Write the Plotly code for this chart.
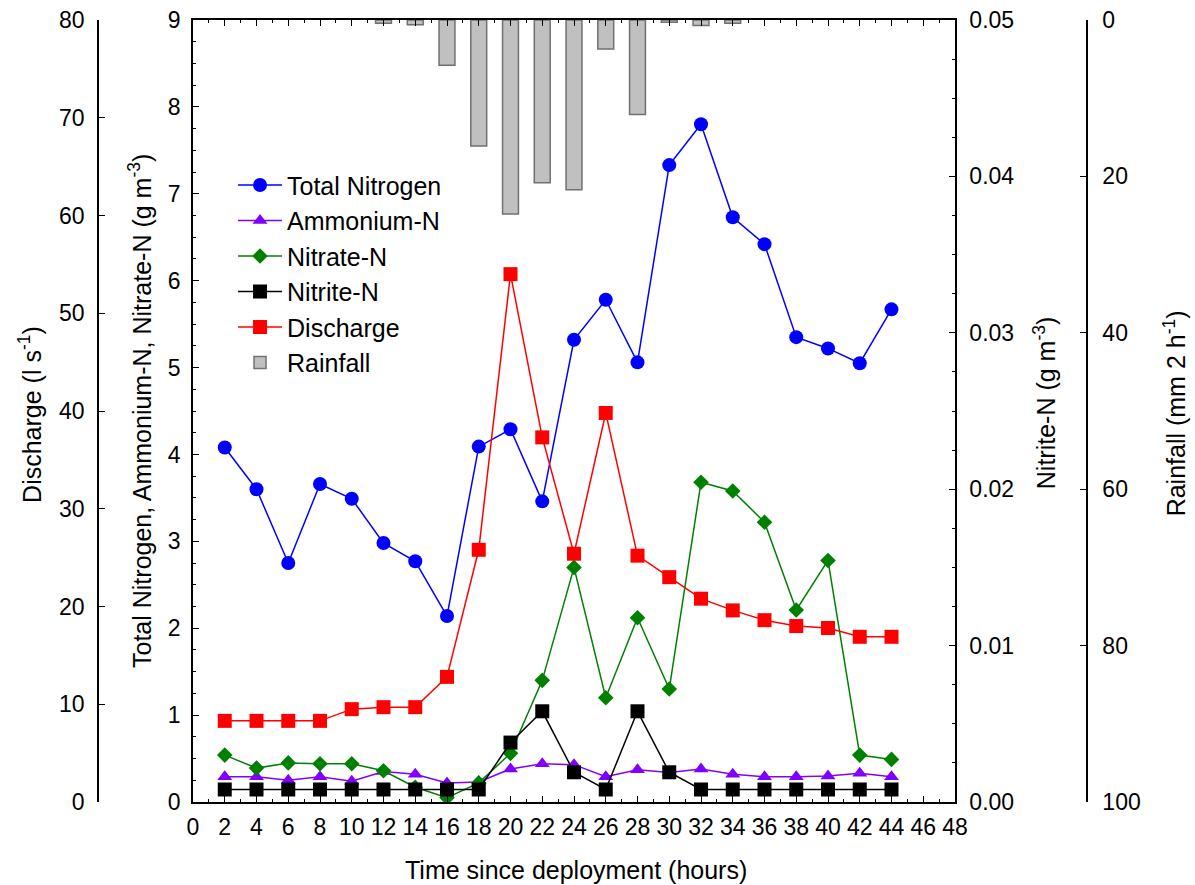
import plotly.graph_objects as go

# sampling times (hours since deployment)
hours = [2, 4, 6, 8, 10, 12, 14, 16, 18, 20, 22, 24, 26, 28, 30, 32, 34, 36, 38, 40, 42, 44]

total_nitrogen = [4.08, 3.60, 2.75, 3.66, 3.49, 2.98, 2.77, 2.14, 4.09, 4.29, 3.46,
                  5.32, 5.78, 5.06, 7.33, 7.80, 6.73, 6.42, 5.35, 5.22, 5.05, 5.67]
ammonium = [0.29, 0.29, 0.25, 0.29, 0.24, 0.35, 0.32, 0.22, 0.23, 0.38, 0.44,
            0.43, 0.29, 0.37, 0.34, 0.38, 0.32, 0.29, 0.29, 0.30, 0.33, 0.29]
nitrate = [0.54, 0.39, 0.45, 0.44, 0.44, 0.36, 0.17, 0.05, 0.22, 0.56, 1.40,
           2.70, 1.20, 2.12, 1.30, 3.68, 3.58, 3.22, 2.21, 2.78, 0.54, 0.49]
nitrite = [0.0008, 0.0008, 0.0008, 0.0008, 0.0008, 0.0008, 0.0008, 0.0008, 0.0008, 0.0038, 0.0058,
           0.0019, 0.0008, 0.0058, 0.0019, 0.0008, 0.0008, 0.0008, 0.0008, 0.0008, 0.0008, 0.0008]
discharge = [8.3, 8.3, 8.3, 8.3, 9.5, 9.7, 9.7, 12.8, 25.8, 54.0, 37.3,
             25.4, 39.8, 25.2, 23.0, 20.8, 19.6, 18.6, 18.0, 17.8, 16.9, 16.9]

rain_hours = [12, 14, 16, 18, 20, 22, 24, 26, 28, 30, 32, 34]
rainfall = [0.4, 0.6, 5.8, 16.1, 24.8, 20.8, 21.7, 3.7, 12.1, 0.3, 0.7, 0.4]

FONT = "Liberation Sans, Arial, sans-serif"
W, H = 1195, 885

fig = go.Figure()

def line(name, y, color, symbol, size, axis, rank):
    fig.add_trace(go.Scatter(
        x=hours, y=y, name=name, yaxis=axis, mode="lines+markers",
        line=dict(color=color, width=1.5),
        marker=dict(symbol=symbol, size=size, color=color),
        legendrank=rank,
    ))

line("Total Nitrogen", total_nitrogen, "#0000FF", "circle", 14, "y", 1)
line("Ammonium-N", ammonium, "#8000FF", "triangle-up", 13, "y", 2)
line("Nitrate-N", nitrate, "#008000", "diamond", 12, "y", 3)
line("Discharge", discharge, "#FF0000", "square", 14, "y2", 5)
line("Nitrite-N", nitrite, "#000000", "square", 14, "y3", 4)

fig.add_trace(go.Bar(
    x=rain_hours, y=rainfall, name="Rainfall", yaxis="y4", width=1.0,
    marker=dict(color="#C0C0C0", line=dict(color="#707070", width=1.5)),
    legendrank=6,
))

axis_common = dict(showline=True, linecolor="black", linewidth=1.5, showgrid=False,
                   zeroline=False, ticks="inside", tickcolor="black", ticklen=6,
                   automargin=False,
                   tickfont=dict(size=23, color="black", family=FONT))

x0, x1 = 193 / W, 955 / W

fig.update_layout(
    width=W, height=H,
    margin=dict(l=0, r=0, t=20, b=83),
    plot_bgcolor="white", paper_bgcolor="white",
    font=dict(family=FONT, size=23, color="black"),
    barmode="overlay",
    xaxis=dict(domain=[x0, x1], range=[0, 48], tickmode="linear", tick0=0, dtick=2,
               mirror="ticks", ticklabelstandoff=4,
               minor=dict(dtick=1, ticklen=3, ticks="inside", tickcolor="black"),
               **axis_common),
    yaxis=dict(range=[0, 9], tickmode="linear", tick0=0, dtick=1, ticklabelstandoff=6,
               minor=dict(dtick=0.25, ticklen=3, ticks="inside", tickcolor="black"),
               **axis_common),
    yaxis2=dict(overlaying="y", anchor="free", position=98 / W, side="left",
                ticklabelstandoff=8,
                range=[0, 80], tickmode="linear", tick0=0, dtick=10, **axis_common),
    yaxis3=dict(overlaying="y", anchor="x", side="right", range=[0, 0.05],
                tickmode="linear", tick0=0, dtick=0.01, tickformat=".2f", ticklabelstandoff=8,
                minor=dict(dtick=0.0025, ticklen=3, ticks="inside", tickcolor="black"),
                **axis_common),
    yaxis4=dict(overlaying="y", anchor="free", position=1087 / W, side="right",
                ticklabelstandoff=10,
                range=[100, 0], tickmode="linear", tick0=0, dtick=20, **axis_common),
    legend=dict(x=0.195, y=0.818, xanchor="left", yanchor="top", bgcolor="rgba(0,0,0,0)",
                itemwidth=44, font=dict(size=25, family=FONT, color="black")),
    showlegend=True,
)

# axis titles placed by hand, like the original figure
titles = [
    ("Discharge (l s<sup>-1</sup>)", 30 / W, 0.495, -90),
    ("Total Nitrogen, Ammonium-N, Nitrate-N (g m<sup>-3</sup>)", 140 / W, 0.50, -90),
    ("Nitrite-N (g m<sup>-3</sup>)", 1045 / W, 0.51, -90),
    ("Rainfall (mm 2 h<sup>-1</sup>)", 1175 / W, 0.497, -90),
    ("Time since deployment (hours)", 576 / W, -68 / 782, 0),
]
for text, x, y, angle in titles:
    fig.add_annotation(text=text, x=x, y=y, xref="paper", yref="paper",
                       xanchor="center", yanchor="middle", textangle=angle,
                       showarrow=False, font=dict(size=25, family=FONT, color="black"))

# drop the default page margin so the figure sits at the window's corner
fig.write_html("out.html", config={"displayModeBar": False},
               post_script="document.body.style.margin='0';document.body.style.overflow='hidden';")
